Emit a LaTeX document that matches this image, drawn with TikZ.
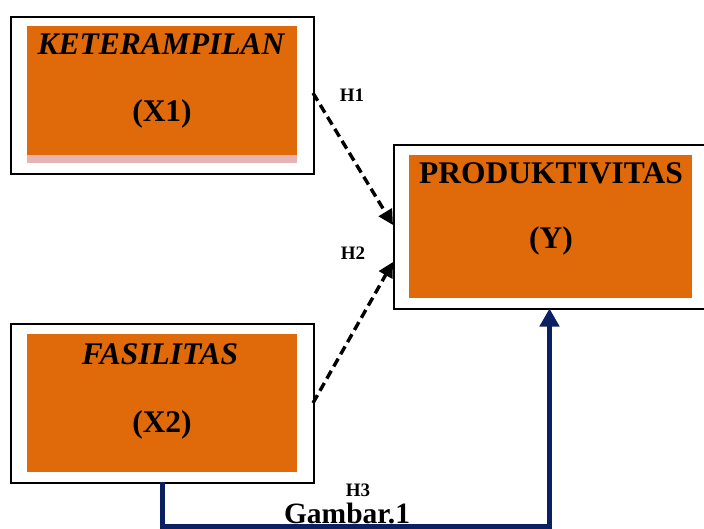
\documentclass[tikz,border=0pt]{standalone}
\usepackage{fontspec}
\setmainfont{Liberation Serif}
\usetikzlibrary{arrows.meta}
\definecolor{boxorange}{HTML}{E06A0A}
\definecolor{boxpink}{HTML}{E6B4B4}
\definecolor{navy}{HTML}{0B2062}
\begin{document}
\begin{tikzpicture}[x=1pt,y=-1pt,
  outerbox/.style={draw=black, line width=1.8pt, fill=white},
  bigtxt/.style={font=\fontsize{31.5}{31.5}\selectfont\bfseries, inner sep=0pt, anchor=base},
  bigit/.style={bigtxt, font=\fontsize{31.5}{31.5}\selectfont\bfseries\itshape},
  hlabel/.style={font=\fontsize{19}{19}\selectfont\bfseries, inner sep=0pt},
  dasharrow/.style={draw=black, line width=3.4pt, dash pattern=on 9pt off 5pt, -{Triangle[length=15pt,width=15pt]}},
  navyline/.style={draw=navy, line width=5pt, -{Triangle[length=18pt,width=19pt]}}
]
\useasboundingbox (0,0) rectangle (704,529);
% X1 box
\node[outerbox, minimum width=303pt, minimum height=157pt, anchor=north west] (x1) at (10,16) {};
\fill[boxpink] (27,150) rectangle (297,163);
\fill[boxorange] (27,26) rectangle (297,155);
\node[bigit] (x1a) at (161,55) {KETERAMPILAN};
\node[bigtxt] (x1b) at (162,122) {(X1)};
% Y box
\node[outerbox, minimum width=314pt, minimum height=164pt, anchor=north west] (y) at (393,144) {};
\fill[boxorange] (409,155) rectangle (692,298);
\node[bigtxt] (ya) at (551,184) {PRODUKTIVITAS};
\node[bigtxt] (yb) at (551,249) {(Y)};
% X2 box
\node[outerbox, minimum width=303pt, minimum height=159pt, anchor=north west] (x2) at (10,323) {};
\fill[boxorange] (27,334) rectangle (297,472);
\node[bigit] (x2a) at (160,364) {FASILITAS};
\node[bigtxt] (x2b) at (162,432) {(X2)};
% connectors
\coordinate (s1) at (313,93);
\coordinate (e1) at (393,225);
\coordinate (s2) at (313,403);
\coordinate (e2) at (393,262);
\draw[dasharrow] (s1) -- (e1);
\draw[dasharrow] (s2) -- (e2);
\coordinate (n1) at (162,482);
\coordinate (n2) at (162,526.5);
\coordinate (n3) at (549.5,526.5);
\coordinate (n4) at (549.5,308.5);
\draw[navyline, line join=miter] (n1) -- (n2) -- (n3) -- (n4);
% labels
\node[hlabel] (h1) at (352,95) {H1};
\node[hlabel] (h2) at (353,253) {H2};
\node[hlabel] (h3) at (358,490) {H3};
\node[bigtxt, font=\fontsize{29.5}{29.5}\selectfont\bfseries] (gam) at (347,523) {Gambar.1};
\end{tikzpicture}
\end{document}
